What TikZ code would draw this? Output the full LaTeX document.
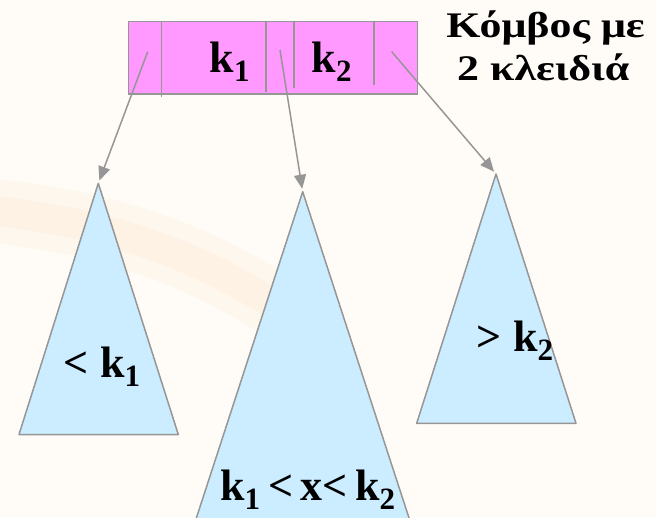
\documentclass[tikz,border=0pt]{standalone}
\usepackage{fontspec}
\setmainfont{Liberation Serif}
\usetikzlibrary{arrows.meta}
\definecolor{bgcream}{HTML}{FFFCF8}
\definecolor{swooshouter}{HTML}{FEF7EE}
\definecolor{swooshinner}{HTML}{FEF2E4}
\definecolor{keypink}{HTML}{FF99FF}
\definecolor{treeblue}{HTML}{CCECFF}
\definecolor{edgegray}{HTML}{969696}
\newcommand\ksub[1]{k\raisebox{-9pt}{\fontsize{31}{31}\selectfont #1}}
\newcommand\widetxt[1]{\scalebox{1.22}[1]{#1}}
\begin{document}
\begin{tikzpicture}[x=1pt,y=-1pt,
  edge/.style={draw=edgegray,line width=1.5pt},
  link/.style={edge,shorten >=3pt,-{Triangle[length=14pt,width=12pt]}},
  tree/.style={edge,fill=treeblue,line join=round},
  lbl/.style={anchor=base,inner sep=0pt,font=\fontsize{44}{44}\selectfont\bfseries},
  captxt/.style={anchor=base,inner sep=0pt,font=\fontsize{36}{36}\selectfont\bfseries},
]
\useasboundingbox (0,0) rectangle (656,517);
\fill[bgcream] (0,0) rectangle (656,517);
\begin{scope}
  \clip (0,0) rectangle (656,517);
  % faint background swoosh
  \draw[swooshouter,line width=64pt,line cap=round] (-40,208) .. controls (100,218) and (200,252) .. (300,322);
  \draw[swooshinner,line width=30pt,line cap=round] (-40,208) .. controls (100,218) and (200,252) .. (300,322);
  % subtrees
  \coordinate (tl) at (98.3,183.3);
  \coordinate (tm) at (302.7,191.7);
  \coordinate (tr) at (496,174);
  \draw[tree] (tl) -- (19,434.5) -- (178.3,434.5) -- cycle;
  \draw[tree] (tm) -- (189.2,540) -- (416.2,540) -- cycle;
  \draw[tree] (tr) -- (416.7,423.3) -- (576,423.3) -- cycle;
\end{scope}
% node with 2 keys
\node[draw=edgegray,line width=1.5pt,fill=keypink,minimum width=289.2pt,minimum height=72.6pt,inner sep=0pt,anchor=north west] (box) at (127.5,20.7) {};
\draw[edge] (161.7,20.7) -- (161.7,96.7);
\draw[edge] (266,20.7) -- (266,91.7);
\draw[edge] (294,20.7) -- (294,88.3);
\draw[edge] (374,20.7) -- (374,85);
\node[lbl] (k1) at (229.7,72.7) {\ksub{1}};
\node[lbl] (k2) at (331.7,72.7) {\ksub{2}};
% pointers
\coordinate (p0) at (147.7,51.7);
\coordinate (p1) at (280,50);
\coordinate (p2) at (391.7,51.7);
\draw[link] (p0) -- (tl);
\draw[link] (p1) -- (tm);
\draw[link] (p2) -- (tr);
% labels
\node[lbl] (ll) at (102,377.7) {< \ksub{1}};
\node[lbl] (lr) at (515,351.7) {> \ksub{2}};
\node[lbl] (lm) at (307.7,500.5) {\ksub{1}\hspace{8pt}<\hspace{7pt}x<\hspace{8pt}\ksub{2}};
\node[captxt] (c1) at (545.5,37.3) {\widetxt{Κόμβος με}};
\node[captxt] (c2) at (543.3,80) {\widetxt{2 κλειδιά}};
\end{tikzpicture}
\end{document}
